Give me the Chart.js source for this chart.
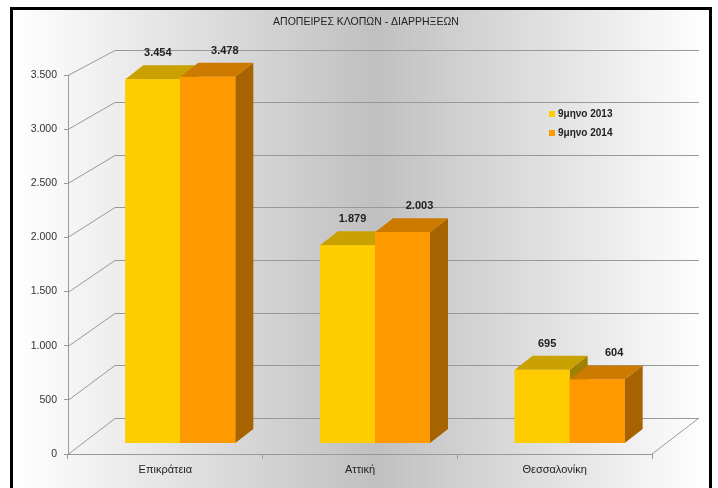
<!DOCTYPE html>
<html>
<head>
<meta charset="utf-8">
<script src="https://cdn.jsdelivr.net/npm/chart.js@4"></script>
<style>body{margin:0;background:#fff}</style>
</head>
<body>
<canvas id="chart" width="718" height="488"></canvas>
<script>
const title = 'ΑΠΟΠΕΙΡΕΣ ΚΛΟΠΩΝ - ΔΙΑΡΡΗΞΕΩΝ';
const regions = ['Επικράτεια', 'Αττική', 'Θεσσαλονίκη'];
const seriesNames = ['9μηνο 2013', '9μηνο 2014'];
const values2013 = [3454, 1879, 695];
const values2014 = [3478, 2003, 604];

const fmt = v => String(v).replace(/\B(?=(\d{3})+(?!\d))/g, '.');
const FONT = '"Liberation Sans", Arial, sans-serif';

// fake 3d: front plane -> back wall, bars pushed into floor, bar depth
const DEPTH = {x: 47, y: -36};
const SHIFT = {x: 15, y: -11};
const BAR = {x: 18, y: -14};
const shades = [
    {front: '#FFCC00', top: '#C9A100', side: '#A08000'},
    {front: '#FF9900', top: '#CC7A00', side: '#A66300'}
];

const box3d = {
    id: 'box3d',
    beforeDraw(chart) {
        const c = chart.ctx;
        c.save();
        c.fillStyle = '#fff';
        c.fillRect(0, 0, chart.width, chart.height);
        const g = c.createLinearGradient(13, 0, 709, 0);
        g.addColorStop(0, '#ffffff');
        g.addColorStop(0.52, '#c0c0c0');
        g.addColorStop(1, '#ffffff');
        c.fillStyle = g;
        c.fillRect(13, 10, 696, 478);
        c.strokeStyle = '#000';
        c.lineWidth = 3;
        c.strokeRect(11.5, 8.5, 699, 495);
        c.fillStyle = '#222';
        c.font = '10.5px ' + FONT;
        c.textAlign = 'center';
        c.textBaseline = 'middle';
        c.fillText(title, 366, 22);
        c.restore();
    },
    beforeDatasetsDraw(chart) {
        const c = chart.ctx, a = chart.chartArea;
        const y = chart.scales.y, yb = chart.scales.yb;
        c.save();
        c.strokeStyle = '#999';
        c.lineWidth = 1;
        y.ticks.forEach(t => {
            const fy = Math.round(y.getPixelForValue(t.value)) + 0.5;
            const by = Math.round(yb.getPixelForValue(t.value) + DEPTH.y) + 0.5;
            c.beginPath();
            c.moveTo(a.left, fy);
            c.lineTo(a.left + DEPTH.x, by);
            c.lineTo(a.right + DEPTH.x, by);
            c.stroke();
        });
        c.beginPath();
        c.moveTo(a.right, a.bottom);
        c.lineTo(a.right + DEPTH.x, a.bottom + DEPTH.y);
        c.stroke();
        c.restore();
        c.save();
        c.translate(SHIFT.x, SHIFT.y);
    },
    afterDatasetsDraw(chart) {
        const c = chart.ctx;
        const metas = chart.data.datasets.map((_, d) => chart.getDatasetMeta(d));
        regions.forEach((_, i) => {
            metas.forEach((m, d) => {
                const el = m.data[i], s = shades[d];
                const l = el.x - el.width / 2, r = el.x + el.width / 2, t = el.y, b = el.base;
                c.fillStyle = s.side;
                c.beginPath();
                c.moveTo(r, t); c.lineTo(r + BAR.x, t + BAR.y);
                c.lineTo(r + BAR.x, b + BAR.y); c.lineTo(r, b);
                c.fill();
                c.fillStyle = s.top;
                c.beginPath();
                c.moveTo(l, t); c.lineTo(l + BAR.x, t + BAR.y);
                c.lineTo(r + BAR.x, t + BAR.y); c.lineTo(r, t);
                c.fill();
                c.fillStyle = s.front;
                c.fillRect(l, t, r - l, b - t);
            });
        });
        c.font = 'bold 11px ' + FONT;
        c.fillStyle = '#222';
        c.textAlign = 'center';
        c.textBaseline = 'middle';
        metas.forEach((m, d) => m.data.forEach((el, i) => {
            c.fillText(fmt(chart.data.datasets[d].data[i]), el.x + 5 + 12 * d, el.y - 26);
        }));
        c.restore();

        // legend
        c.save();
        c.font = 'bold 10px ' + FONT;
        c.textAlign = 'left';
        c.textBaseline = 'middle';
        chart.data.datasets.forEach((ds, d) => {
            const ly = 114 + 19 * d;
            c.fillStyle = ds.backgroundColor;
            c.fillRect(549, ly - 3, 6, 6);
            c.fillStyle = '#222';
            c.fillText(ds.label, 558, ly);
        });
        c.restore();
    }
};

new Chart(document.getElementById('chart'), {
    type: 'bar',
    data: {
        labels: regions,
        datasets: [
            {label: seriesNames[0], data: values2013, backgroundColor: shades[0].front, yAxisID: 'yb', clip: false},
            {label: seriesNames[1], data: values2014, backgroundColor: shades[1].front, yAxisID: 'yb', clip: false}
        ]
    },
    options: {
        responsive: false,
        devicePixelRatio: 1,
        animation: false,
        categoryPercentage: 0.565,
        barPercentage: 1,
        layout: {padding: {top: 75, right: 66, left: 0, bottom: 0}},
        plugins: {legend: {display: false}, tooltip: {enabled: false}},
        scales: {
            x: {
                grid: {offset: true, drawOnChartArea: false, tickLength: 5, color: '#999'},
                border: {color: '#999'},
                ticks: {color: '#222', font: {family: FONT, size: 11}, padding: 4},
                afterFit: s => { s.height = 34; }
            },
            y: {
                min: 0,
                max: 3500,
                ticks: {stepSize: 500, callback: v => fmt(v), color: '#333', font: {family: FONT, size: 10.5}, padding: 7},
                grid: {drawOnChartArea: false, tickLength: 4, color: '#999'},
                border: {color: '#999'},
                afterFit: s => { s.width = 68; }
            },
            yb: {display: false, min: 0, max: 3600}
        }
    },
    plugins: [box3d]
});
</script>
</body>
</html>
